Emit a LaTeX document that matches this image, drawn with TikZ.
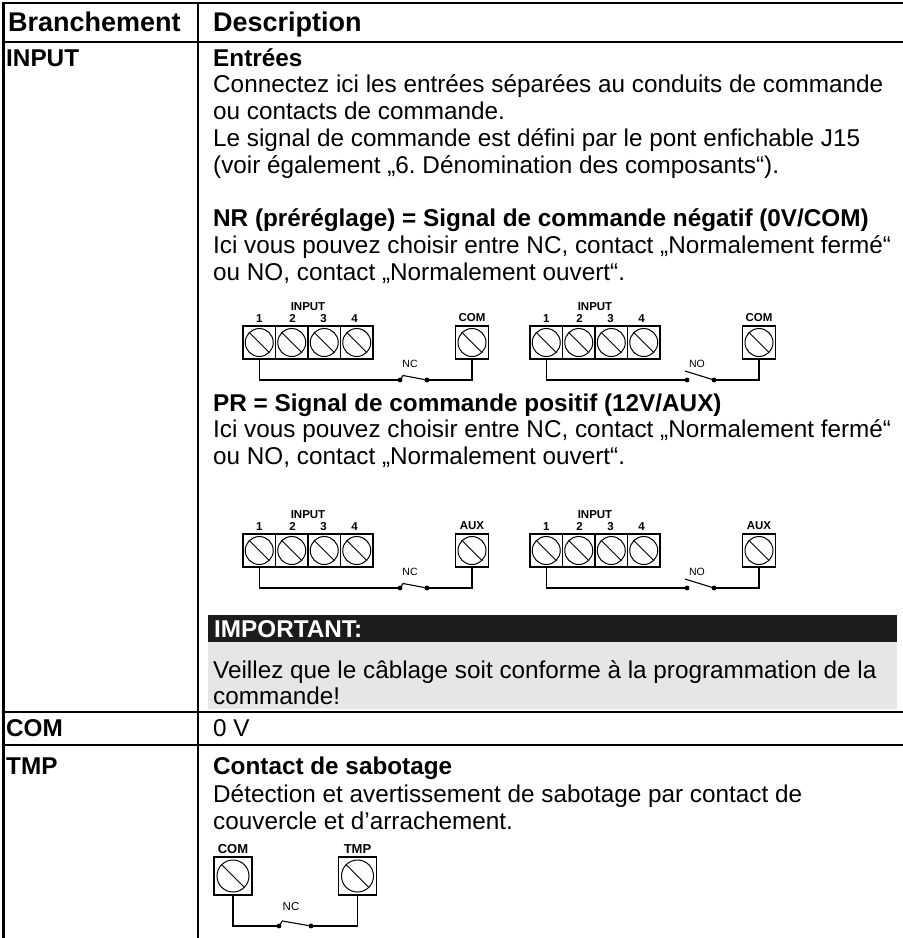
\documentclass[tikz,border=0pt]{standalone}
\usepackage{fontspec}
\setmainfont{Liberation Sans}
\usetikzlibrary{calc}
\frenchspacing
\definecolor{barblack}{HTML}{1C1C1C}
\definecolor{notegray}{HTML}{E6E6E6}
\newcommand\screwmark[1]{%
  \draw[line width=1pt] (path picture bounding box.center) circle[radius=#1];
  \draw[line width=1pt] ($(path picture bounding box.center)+(-0.72*#1,0.72*#1)$) -- ($(path picture bounding box.center)+(0.72*#1,-0.72*#1)$);}
\tikzset{
  body/.style={font=\fontsize{24.3}{26}\selectfont, anchor=base west, inner sep=0pt},
  bbody/.style={font=\fontsize{24.3}{26}\bfseries\selectfont, anchor=base west, inner sep=0pt},
  head/.style={font=\fontsize{27}{29}\bfseries\selectfont, anchor=base west, inner sep=0pt},
  rule/.style={line width=2.6pt},
  term/.style={draw, line width=1.1pt, minimum width=32.5pt, minimum height=33pt, inner sep=0pt, outer sep=0pt, path picture={\screwmark{14pt}}},
  termL/.style={draw, line width=1.2pt, minimum width=38pt, minimum height=38pt, inner sep=0pt, outer sep=0pt, path picture={\screwmark{16pt}}},
  dlbl/.style={font=\fontsize{11.5}{12}\bfseries\selectfont, anchor=base, inner sep=0pt},
  dlblL/.style={font=\fontsize{13}{14}\bfseries\selectfont, anchor=base, inner sep=0pt},
  swlbl/.style={font=\fontsize{10.5}{11}\selectfont, anchor=base, inner sep=0pt},
  swlblL/.style={font=\fontsize{11.5}{12}\selectfont, anchor=base, inner sep=0pt},
  dot/.style={circle, fill, minimum size=4.8pt, inner sep=0pt},
  wire/.style={line width=1.1pt},
}
\newcommand\bladeNC[1]{\draw[wire] (#1-dl.center) -- ++(3,-4.5) -- (#1-dr.center);}
\newcommand\bladeNO[1]{\draw[wire] ($(#1-dl.center)+(-2,-9)$) -- (#1-dr.center);}
% #1 prefix, #2 X0, #3 Y0, #4 right label, #5 NC/NO
\newcommand\inputdiag[5]{%
  \node[term] (#1-b1) at (#2+16.25,#3+16.5) {};
  \node[term] (#1-b2) at (#2+48.75,#3+16.5) {};
  \node[term] (#1-b3) at (#2+81.25,#3+16.5) {};
  \node[term] (#1-b4) at (#2+113.75,#3+16.5) {};
  \node[term] (#1-c) at (#2+229,#3+16.5) {};
  \node[dlbl] (#1-in) at (#2+65,#3-16) {INPUT};
  \node[dlbl] (#1-n1) at (#2+16.25,#3-4) {1};
  \node[dlbl] (#1-n2) at (#2+49.5,#3-4) {2};
  \node[dlbl] (#1-n3) at (#2+80.5,#3-4) {3};
  \node[dlbl] (#1-n4) at (#2+111.5,#3-4) {4};
  \node[dlbl] (#1-cl) at (#2+229,#3-5) {#4};
  \node[dot] (#1-dl) at (#2+157,#3+54) {};
  \node[dot] (#1-dr) at (#2+184,#3+54) {};
  \node[swlbl] (#1-sw) at (#2+167,#3+41) {#5};
  \draw[wire] (#1-b1.south) |- (#1-dl.center);
  \draw[wire] (#1-dr.center) -| (#1-c.south);
  \csname blade#5\endcsname{#1}%
}
\begin{document}
\begin{tikzpicture}[x=1pt,y=-1pt]
\useasboundingbox (0,0) rectangle (903,938);
% table rules
\coordinate (tl) at (3.5,3);
\coordinate (tr) at (903,3);
\coordinate (bl) at (3.5,938);
\coordinate (sept) at (198,3);
\coordinate (sepb) at (198,938);
\coordinate (h1l) at (2.2,42);
\coordinate (h1r) at (903,42);
\coordinate (h2l) at (2.2,712);
\coordinate (h2r) at (903,712);
\coordinate (h3l) at (2.2,745);
\coordinate (h3r) at (903,745);
\draw[rule] (2.2,3) -- (tr);
\draw[rule] (h1l) -- (h1r);
\draw[rule] (h2l) -- (h2r);
\draw[rule] (h3l) -- (h3r);
\draw[rule] (tl) -- (bl);
\draw[rule] (sept) -- (sepb);
% header
\node[head] (hb) at (8,31) {Branchement};
\node[head] (hd) at (213,31) {Description};
% left column
\node[bbody] (lin) at (6,66) {INPUT};
\node[bbody] (lcom) at (6,736) {COM};
\node[bbody] (ltmp) at (6,774.5) {TMP};
% INPUT description
\node[bbody] (t1) at (213,66) {Entrées};
\node[body] (t2) at (213,92.8) {Connectez ici les entrées séparées au conduits de commande};
\node[body] (t3) at (213,119.6) {ou contacts de commande.};
\node[body] (t4) at (213,146.4) {Le signal de commande est défini par le pont enfichable J15};
\node[body] (t5) at (213,173.2) {(voir également „6. Dénomination des composants“).};
\node[bbody] (t6) at (213,226.8) {NR (préréglage) = Signal de commande négatif (0V/COM)};
\node[body] (t7) at (213,253.6) {Ici vous pouvez choisir entre NC, contact „Normalement fermé“};
\node[body] (t8) at (213,280.4) {ou NO, contact „Normalement ouvert“.};
\inputdiag{na}{243}{326}{COM}{NC}
\inputdiag{nb}{530}{326}{COM}{NO}
\node[bbody] (t9) at (213,411) {PR = Signal de commande positif (12V/AUX)};
\node[body] (t10) at (213,437.8) {Ici vous pouvez choisir entre NC, contact „Normalement fermé“};
\node[body] (t11) at (213,464.6) {ou NO, contact „Normalement ouvert“.};
\inputdiag{pa}{243}{534}{AUX}{NC}
\inputdiag{pb}{530}{534}{AUX}{NO}
% important box
\fill[barblack] (208,615) rectangle (897,642);
\fill[notegray] (208,642) rectangle (897,709);
\node[bbody, text=white] (imp) at (214,637.5) {IMPORTANT:};
\node[body] (v1) at (213,678) {Veillez que le câblage soit conforme à la programmation de la};
\node[body] (v2) at (213,704) {commande!};
% COM row
\node[body] (c1) at (213,736) {0 V};
% TMP row
\node[bbody] (m1) at (213,774.5) {Contact de sabotage};
\node[body] (m2) at (213,802) {Détection et avertissement de sabotage par contact de};
\node[body] (m3) at (213,829.5) {couvercle et d’arrachement.};
\node[termL] (tc) at (233,876) {};
\node[termL] (tt) at (357.5,876) {};
\node[dlblL] (tcl) at (233,853) {COM};
\node[dlblL] (ttl) at (357.5,853) {TMP};
\node[dot] (t-dl) at (279,926) {};
\node[dot] (t-dr) at (311,926) {};
\node[swlblL] (tsw) at (291,910) {NC};
\draw[wire] (tc.south) |- (t-dl.center);
\draw[wire] (t-dr.center) -| (tt.south);
\draw[wire] (t-dl.center) -- ++(3.5,-5) -- (t-dr.center);
\end{tikzpicture}
\end{document}
